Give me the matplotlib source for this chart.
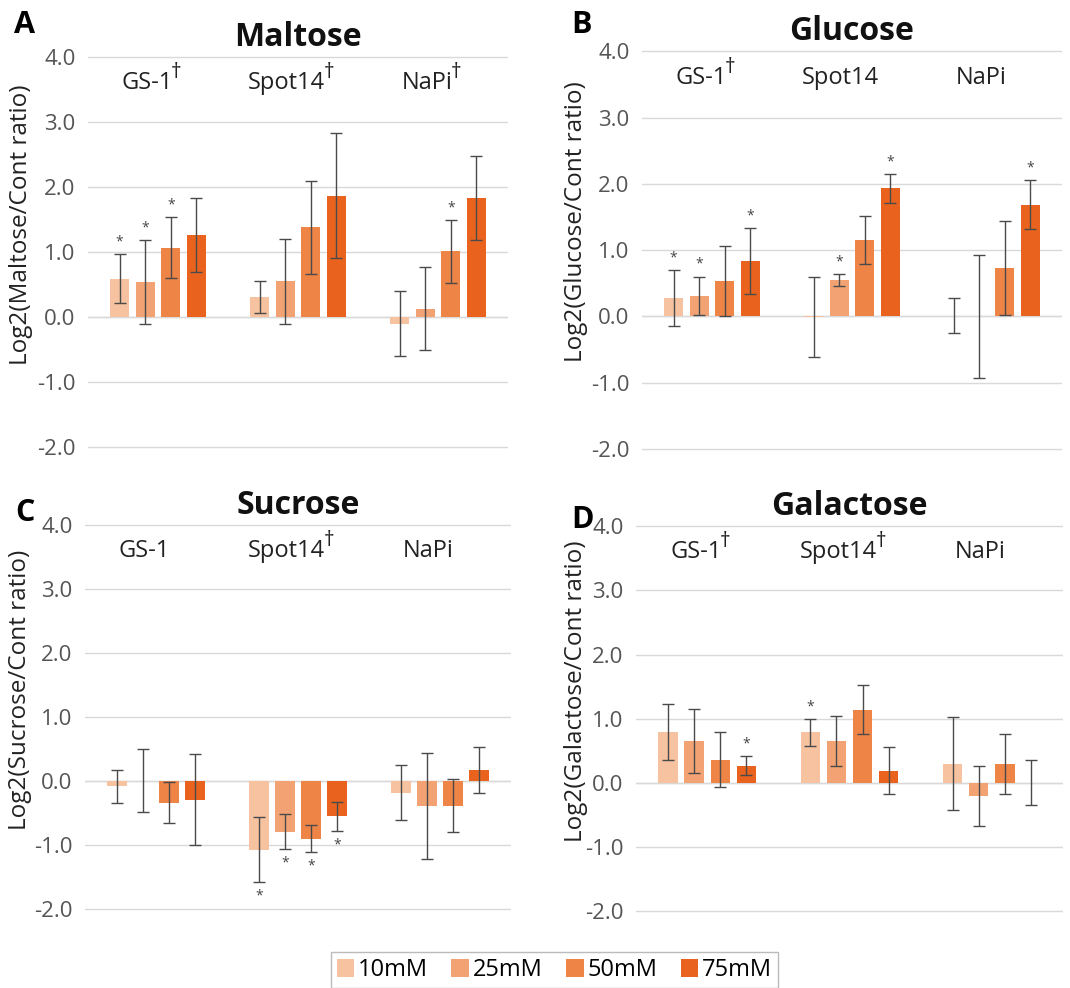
import numpy as np
import matplotlib.pyplot as plt

plt.rcParams['font.family'] = ['Open Sans', 'DejaVu Sans']

# data (mean, symmetric error) for 10/25/50/75 mM
genes = ["GS-1", "Spot14", "NaPi"]
conc = ["10mM", "25mM", "50mM", "75mM"]
colors = ["#F6C2A0", "#F3A373", "#EF8447", "#E9631F"]

maltose_mean = [[0.59, 0.54, 1.07, 1.27], [0.31, 0.55, 1.38, 1.87], [-0.10, 0.13, 1.01, 1.83]]
maltose_err = [[0.38, 0.64, 0.47, 0.57], [0.24, 0.65, 0.72, 0.96], [0.50, 0.64, 0.49, 0.65]]
maltose_star = [[1, 1, 1, 0], [0, 0, 0, 0], [0, 0, 1, 0]]
maltose_dagger = [True, True, True]

glucose_mean = [[0.28, 0.31, 0.53, 0.83], [-0.01, 0.55, 1.15, 1.93], [0.01, 0.0, 0.73, 1.68]]
glucose_err = [[0.42, 0.29, 0.53, 0.50], [0.60, 0.09, 0.36, 0.22], [0.26, 0.93, 0.71, 0.37]]
glucose_star = [[1, 1, 0, 1], [0, 1, 0, 1], [0, 0, 0, 1]]
glucose_dagger = [True, False, False]

sucrose_mean = [[-0.08, 0.01, -0.34, -0.29], [-1.07, -0.79, -0.90, -0.55], [-0.18, -0.39, -0.38, 0.17]]
sucrose_err = [[0.26, 0.49, 0.32, 0.71], [0.51, 0.27, 0.21, 0.23], [0.43, 0.83, 0.42, 0.36]]
sucrose_star = [[0, 0, 0, 0], [1, 1, 1, 1], [0, 0, 0, 0]]
sucrose_dagger = [False, True, False]

galactose_mean = [[0.79, 0.65, 0.36, 0.27], [0.79, 0.65, 1.14, 0.19], [0.30, -0.20, 0.29, 0.0]]
galactose_err = [[0.44, 0.50, 0.43, 0.15], [0.21, 0.39, 0.38, 0.37], [0.73, 0.47, 0.47, 0.35]]
galactose_star = [[0, 0, 0, 1], [1, 0, 0, 0], [0, 0, 0, 0]]
galactose_dagger = [True, True, False]

panels = [
    ("A", "Maltose", maltose_mean, maltose_err, maltose_star, maltose_dagger),
    ("B", "Glucose", glucose_mean, glucose_err, glucose_star, glucose_dagger),
    ("C", "Sucrose", sucrose_mean, sucrose_err, sucrose_star, sucrose_dagger),
    ("D", "Galactose", galactose_mean, galactose_err, galactose_star, galactose_dagger),
]

W, H = 1070, 988
fig = plt.figure(figsize=(W / 100, H / 100), dpi=100)

# axes boxes in pixels: left, right, top, bottom
boxes = [(88, 508, 54, 460), (642, 1062, 48, 462), (85, 511, 522, 922), (636, 1063, 523, 924)]
letter_pos = [(25, 25), (582, 25), (25, 513), (582, 520)]
ylabel_x = [-0.131, -0.129, -0.124, -0.112]

bw = 0.136
step = 0.183
offsets = (np.arange(4) - 1.5) * step
x = np.arange(len(genes))

bars = []
for k, ((letter, name, mean, err, star, dagger), (l, r, t, b), (lx, ly)) in enumerate(zip(panels, boxes, letter_pos)):
    ax = fig.add_axes([l / W, 1 - b / H, (r - l) / W, (b - t) / H])
    mean = np.array(mean)
    err = np.array(err)
    for j in range(4):
        bb = ax.bar(x + offsets[j], mean[:, j], bw, color=colors[j], label=conc[j], zorder=2,
                    yerr=err[:, j], error_kw=dict(ecolor="#4a4a4a", elinewidth=1, capsize=4, capthick=1))
        if letter == "A":
            bars.append(bb)
        for i in range(3):
            if star[i][j]:
                m, e = mean[i, j], err[i, j]
                if m >= 0:
                    ax.text(x[i] + offsets[j], m + e + 0.07, "*", ha="center", va="bottom",
                            fontsize=10, color="#444444")
                else:
                    ax.text(x[i] + offsets[j], m - e - 0.1, "*", ha="center", va="top",
                            fontsize=10, color="#444444")
    for i, g in enumerate(genes):
        tx = ax.text(x[i] - 0.08, 3.6, g, ha="center", va="center", fontsize=17, color="#222222")
        if dagger[i]:
            ax.annotate("†", xy=(1, 1), xycoords=tx, xytext=(-1, -1), textcoords="offset points",
                        ha="left", va="center", fontsize=15, color="#222222")
    ax.set_xlim(-0.5, 2.5)
    ax.set_ylim(-2.2, 4.05)
    ax.set_yticks([-2, -1, 0, 1, 2, 3, 4])
    ax.set_yticklabels(["%.1f" % v for v in [-2, -1, 0, 1, 2, 3, 4]])
    ax.tick_params(axis="y", length=0, labelsize=16, labelcolor="#555555", pad=9)
    ax.set_xticks([])
    ax.grid(axis="y", color="#d9d9d9", linewidth=1, zorder=0)
    ax.axhline(0, color="#d9d9d9", linewidth=1, zorder=1)
    for s in ax.spines.values():
        s.set_visible(False)
    ax.set_ylabel("Log2(%s/Cont ratio)" % name, fontsize=17.5, color="#222222")
    ax.yaxis.set_label_coords(ylabel_x[k], 0.58)
    ax.set_title(name, fontsize=23, fontweight="bold", pad=4, color="#111111")
    fig.text(lx / W, 1 - ly / H, letter, fontsize=22, fontweight="bold", ha="center", va="center")

fig.legend(bars, conc, loc="lower center", bbox_to_anchor=(0.518, -0.012), ncol=4, fontsize=17,
           frameon=True, fancybox=False, edgecolor="#aaaaaa", handlelength=0.75, handleheight=0.8,
           handletextpad=0.15, columnspacing=1.0, borderpad=0.25)

fig.savefig("out.png", dpi=100)
